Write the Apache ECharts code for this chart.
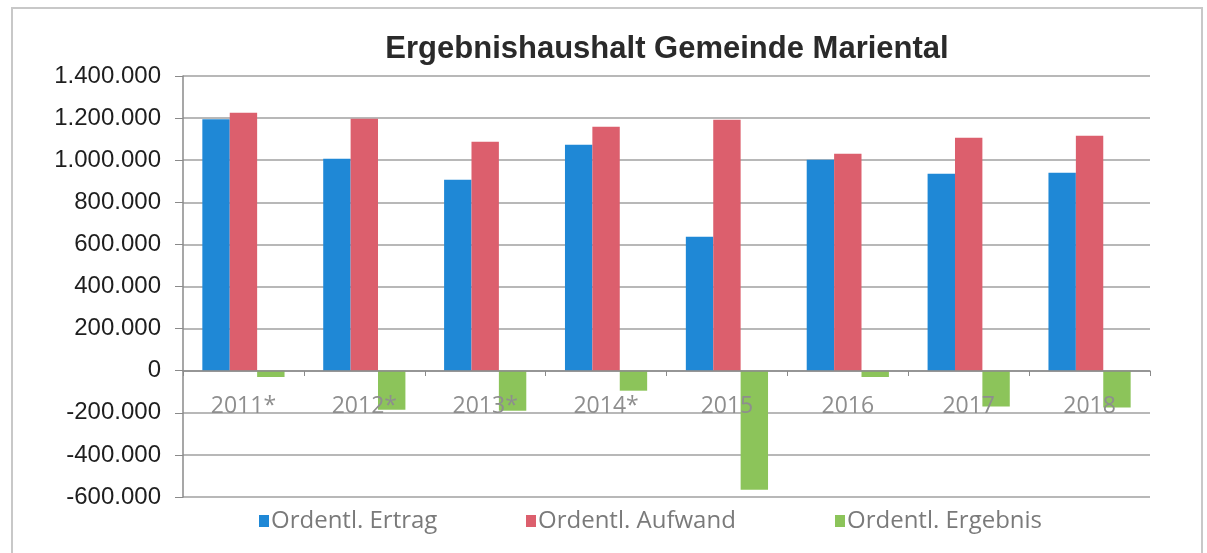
<!DOCTYPE html>
<html>
<head>
<meta charset="utf-8">
<script src="https://cdn.jsdelivr.net/npm/echarts@6/dist/echarts.min.js"></script>
<style>
  html, body { margin: 0; padding: 0; background: #fff; }
  #chart { width: 1207px; height: 553px; }
</style>
</head>
<body>
<div id="chart"></div>
<script>
// Werte (Euro)
const years = ['2011*', '2012*', '2013*', '2014*', '2015', '2016', '2017', '2018']
const ertrag = [1195000, 1007000, 907000, 1073000, 636000, 1002000, 936000, 940000]
const aufwand = [1226000, 1197000, 1088000, 1159000, 1192000, 1031000, 1107000, 1116000]
const ergebnis = [-30000, -185000, -190000, -95000, -565000, -30000, -170000, -175000]
const seriesNames = ['Ordentl. Ertrag', 'Ordentl. Aufwand', 'Ordentl. Ergebnis']

const chart = echarts.init(document.getElementById('chart'))

// deutsche Tausendertrennung
function fmt(v) {
  const s = String(Math.abs(v)).replace(/\B(?=(\d{3})+(?!\d))/g, '.')
  return v < 0 ? '-' + s : s
}

const legendText = { fontFamily: 'Open Sans', fontSize: 24, color: '#7a7a7a', padding: [0, 0, 0, -3] }
const legendLefts = [254, 521, 830]

chart.setOption({
  animation: false,
  title: {
    text: 'Ergebnishaushalt Gemeinde Mariental',
    left: 662,
    textAlign: 'center',
    top: 29,
    textStyle: { fontFamily: 'Liberation Sans', fontSize: 31, fontWeight: 'bold', color: '#2a2a2a' }
  },
  graphic: [{
    type: 'rect',
    shape: { x: 12, y: 8, width: 1190, height: 560 },
    style: { fill: 'none', stroke: '#c8c8c8', lineWidth: 2 },
    silent: true
  }],
  // drei Legenden, damit die Abstände wie im Original sind
  legend: seriesNames.map((n, i) => ({
    bottom: 15,
    left: legendLefts[i],
    itemWidth: 10,
    itemHeight: 12,
    icon: 'rect',
    textStyle: legendText,
    data: [n]
  })),
  grid: { left: 183, right: 57, top: 76, bottom: 56 },
  xAxis: {
    type: 'category',
    data: years,
    offset: -126,
    z: 3,
    axisLine: { onZero: false, lineStyle: { color: '#8a8a8a', width: 1.5 } },
    axisTick: { show: true, length: 5, lineStyle: { color: '#8a8a8a' } },
    axisLabel: { margin: 24, fontFamily: 'Open Sans', fontSize: 23, color: '#8e8e8e' }
  },
  yAxis: {
    type: 'value',
    min: -600000,
    max: 1400000,
    interval: 200000,
    axisLine: { show: true, lineStyle: { color: '#8a8a8a', width: 1.5 } },
    axisTick: { show: true, length: 8, lineStyle: { color: '#8a8a8a' } },
    splitLine: { lineStyle: { color: '#a0a0a0', width: 1.5 } },
    axisLabel: {
      margin: 22,
      fontFamily: 'Liberation Sans',
      fontSize: 24,
      color: '#1e1e1e',
      formatter: fmt
    }
  },
  series: [
    { name: seriesNames[0], type: 'bar', data: ertrag, barGap: '0%', barCategoryGap: '32%', itemStyle: { color: '#1f88d6' } },
    { name: seriesNames[1], type: 'bar', data: aufwand, barGap: '0%', barCategoryGap: '32%', itemStyle: { color: '#dc5f6d' } },
    { name: seriesNames[2], type: 'bar', data: ergebnis, barGap: '0%', barCategoryGap: '32%', itemStyle: { color: '#8cc45a' } }
  ]
})
</script>
</body>
</html>
